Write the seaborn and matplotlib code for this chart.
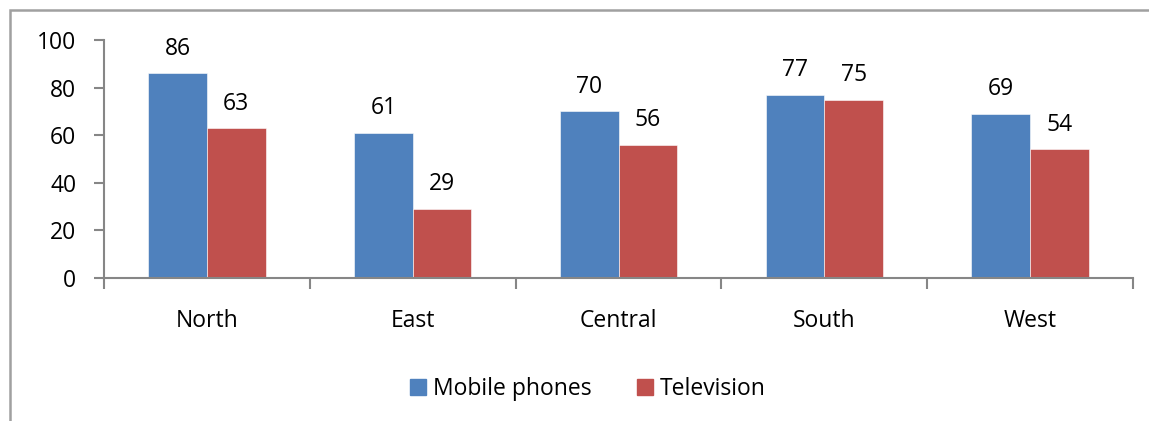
import matplotlib
matplotlib.use("Agg")
import matplotlib.pyplot as plt
import matplotlib.patches as mpatches
import seaborn as sns
import pandas as pd

regions = ["North", "East", "Central", "South", "West"]
mobile = [86, 61, 70, 77, 69]
television = [63, 29, 56, 75, 54]
series_names = ["Mobile phones", "Television"]
colors = ["#4F81BD", "#C0504D"]

df = pd.DataFrame({
    "region": regions * 2,
    "value": mobile + television,
    "series": [series_names[0]] * len(regions) + [series_names[1]] * len(regions),
})

sns.set_style("white")
plt.rcParams["font.family"] = ["Open Sans", "DejaVu Sans"]
plt.rcParams["text.color"] = "black"
plt.rcParams["xtick.labelcolor"] = "black"
plt.rcParams["ytick.labelcolor"] = "black"
fs = 16.5

fig = plt.figure(figsize=(11.49, 4.21), dpi=100)
ax = fig.add_axes([104 / 1149, 1 - 278 / 421, (1133 - 104) / 1149, (278 - 40) / 421])

sns.barplot(data=df, x="region", y="value", hue="series", palette=colors, saturation=1,
            width=0.57, ax=ax, edgecolor="white", linewidth=0.4, legend=False)

for c in ax.containers:
    ax.bar_label(c, padding=9, fontsize=fs, color="black")

ax.set_ylim(0, 100)
ax.set_xlim(-0.5, 4.5)
ax.set_yticks(range(0, 101, 20))
ax.set_xlabel("")
ax.set_ylabel("")
ax.set_xticks([i - 0.5 for i in range(6)], minor=True)
ax.tick_params(axis="x", which="major", length=0, pad=22, labelsize=fs)
ax.tick_params(axis="x", which="minor", length=8, width=1.5, color="#868686", direction="out", bottom=True)
ax.tick_params(axis="y", length=7, width=1.5, color="#868686", direction="out", left=True, pad=13, labelsize=fs)

for s in ["top", "right"]:
    ax.spines[s].set_visible(False)
for s in ["left", "bottom"]:
    ax.spines[s].set_color("#868686")
    ax.spines[s].set_linewidth(1.5)

handles = [mpatches.Patch(color=col, label=n) for col, n in zip(colors, series_names)]
fig.legend(handles=handles, loc="center", bbox_to_anchor=(588 / 1149, 1 - 389 / 421),
           ncol=2, frameon=False, fontsize=fs, handlelength=0.7, handleheight=0.7,
           handletextpad=0.3, columnspacing=2.0)

# outer chart border (cropped on right and bottom)
border = mpatches.Rectangle((10 / 1149, -0.1), 1.2, 1 - 10 / 421 + 0.1, transform=fig.transFigure,
                            fill=False, edgecolor="#A0A0A0", linewidth=1.8, clip_on=False)
fig.patches.append(border)

fig.savefig("out.png", dpi=100)
